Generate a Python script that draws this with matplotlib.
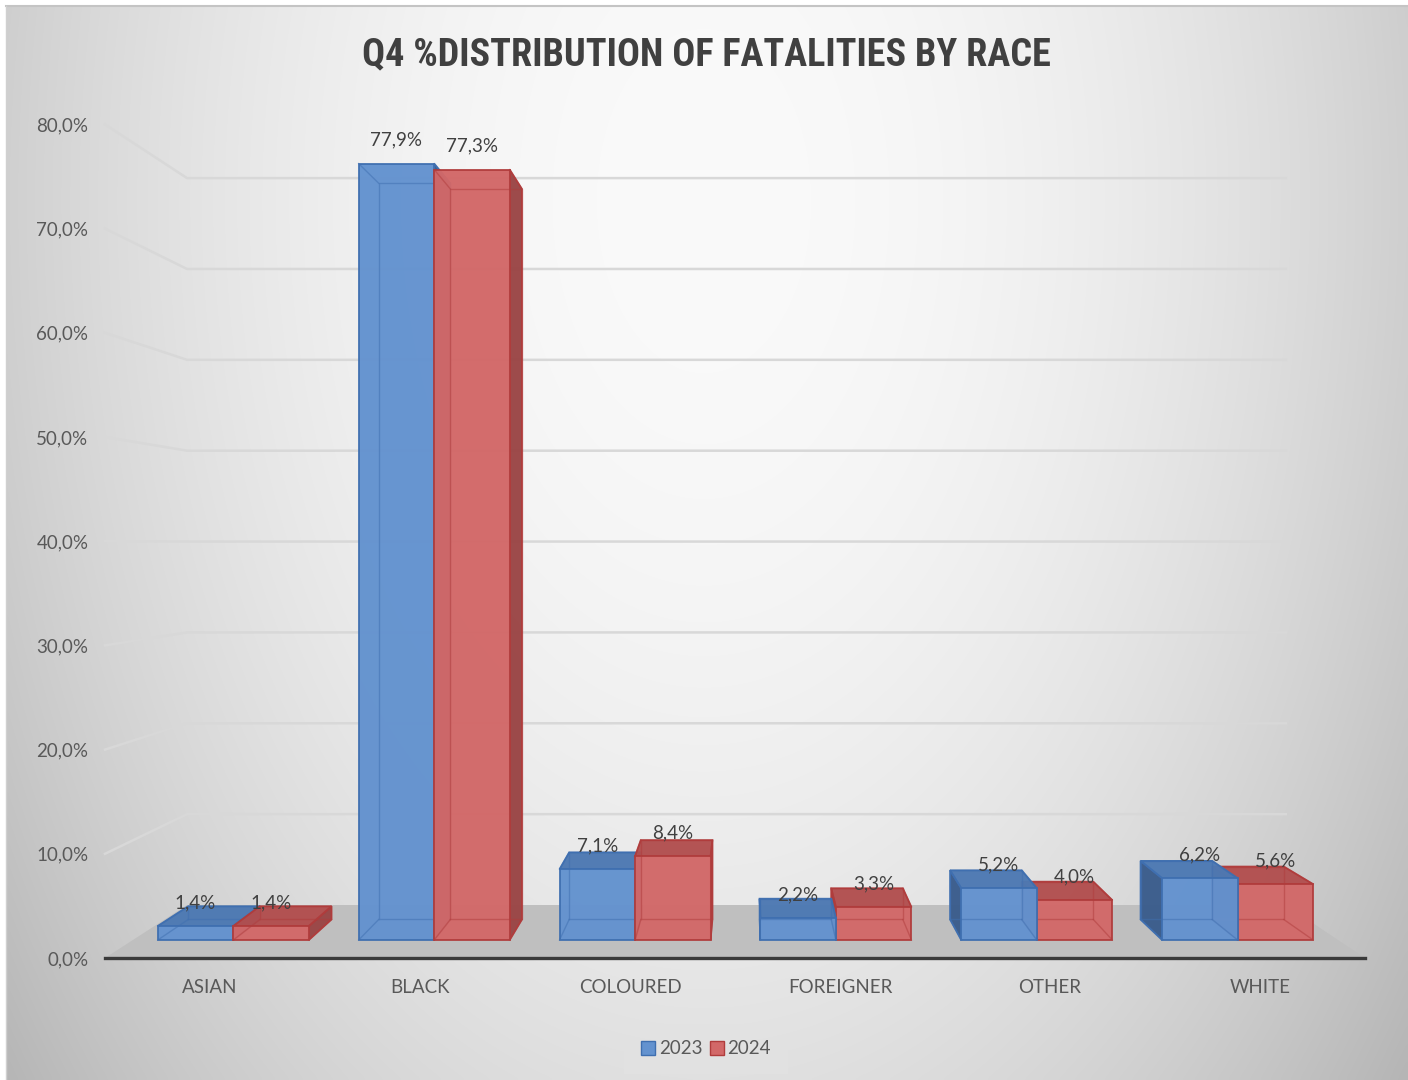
import numpy as np
import matplotlib
matplotlib.use("Agg")
import matplotlib.pyplot as plt
from matplotlib.patches import Polygon, Patch
from matplotlib import font_manager

# ---- data -------------------------------------------------------------
categories = ["ASIAN", "BLACK", "COLOURED", "FOREIGNER", "OTHER", "WHITE"]
series_names = ["2023", "2024"]
values_2023 = [1.4, 77.9, 7.1, 2.2, 5.2, 6.2]
values_2024 = [1.4, 77.3, 8.4, 3.3, 4.0, 5.6]
y_ticks = [0, 10, 20, 30, 40, 50, 60, 70, 80]
title = "Q4 %DISTRIBUTION OF FATALITIES BY RACE"

# ---- fonts ------------------------------------------------------------
installed = {f.name for f in font_manager.fontManager.ttflist}


def pick(*names):
    for n in names:
        if n in installed:
            return n
    return "DejaVu Sans"


body_font = pick("Lato", "Open Sans", "DejaVu Sans")
title_font = pick("Liberation Sans Narrow", "DejaVu Sans Condensed",
                  "Roboto Condensed", "Open Sans", "DejaVu Sans")
plt.rcParams["font.family"] = [body_font, "DejaVu Sans"]

TEXT = "#404040"
TICK = "#595959"

# ---- figure -------------------------------------------------------------
W, H = 1408, 1080
fig = plt.figure(figsize=(W / 100, H / 100), dpi=100)
fig.patch.set_facecolor("white")

# soft grey backdrop, brightest near the top centre
bg = fig.add_axes([0, 0, 1, 1], zorder=-5)
bg.set_xlim(0, W)
bg.set_ylim(H, 0)
bg.axis("off")
gx, gy = np.meshgrid(np.linspace(6, W, 400), np.linspace(6, H, 300))
dx = (gx - 704) / 704
dy = (gy - 200) / 880
shade = (250 - 43 * dx ** 2 - 26 * dy ** 2) / 255
bg.imshow(np.dstack([shade] * 3), extent=(6, W, H, 6), aspect="auto",
          interpolation="bicubic")
bg.plot([6, W], [6, 6], color="#c4c4c4", lw=1.5)
bg.plot([6, 6], [6, H], color="#d0d0d0", lw=1.0)

# main axes = the front plane of the 3-D box
ax = fig.add_axes([105 / W, (H - 958) / H, 1260 / W, 833.6 / H])
n = len(categories)
ax.set_xlim(-0.5, n - 0.5)
ax.set_ylim(0, 80)
ax.patch.set_visible(False)
for s in ("top", "right", "left"):
    ax.spines[s].set_visible(False)
ax.spines["bottom"].set_color("#3a3a3a")
ax.spines["bottom"].set_linewidth(2.4)
ax.spines["bottom"].set_zorder(50)

# perspective: points recede toward a vanishing point
VX, VV = 2.552, 39.73
K_FLOOR = 0.128
K_BAR_FRONT, K_BAR_BACK = 0.0435, 0.093
BAR_W = 0.376


def proj(x, v, k):
    return x + (VX - x) * k, v + (VV - v) * k


# side wall + back wall gridlines
for v in y_ticks[1:]:
    p0 = proj(-0.5, v, 0)
    p1 = proj(-0.5, v, K_FLOOR)
    p2 = proj(n - 0.5, v, K_FLOOR)
    ax.plot([p0[0], p1[0], p2[0]], [p0[1], p1[1], p2[1]], color="#d8d8d8",
            lw=1.8, clip_on=False, zorder=1, solid_joinstyle="round")

# floor
floor = [proj(-0.5, 0, 0), proj(n - 0.5, 0, 0),
         proj(n - 0.5, 0, K_FLOOR), proj(-0.5, 0, K_FLOOR)]
ax.add_patch(Polygon(floor, closed=True, facecolor="#bfbfbf",
                     edgecolor="none", clip_on=False, zorder=2))

palette = {
    "2023": dict(front="#6392cf", top="#4d79b3", side="#3a5c8c",
                 edge="#3f6fb0"),
    "2024": dict(front="#d26868", top="#b24f4f", side="#9a4545",
                 edge="#b03c3c"),
}

bars = []
for i in range(n):
    bars.append((i - BAR_W, i, values_2023[i], "2023"))
    bars.append((i, i + BAR_W, values_2024[i], "2024"))

# paint the bars farthest from the vanishing point first
bars.sort(key=lambda b: -abs((b[0] + b[1]) / 2 - VX))

z = 3.0
for x0, x1, h, name in bars:
    c = palette[name]

    def F(x, v):
        return proj(x, v, K_BAR_FRONT)

    def B(x, v):
        return proj(x, v, K_BAR_BACK)

    faces = []
    if x1 < VX:
        faces.append(([F(x1, 0), B(x1, 0), B(x1, h), F(x1, h)], c["side"]))
    if x0 > VX:
        faces.append(([F(x0, 0), B(x0, 0), B(x0, h), F(x0, h)], c["side"]))
    if h < VV:
        faces.append(([F(x0, h), F(x1, h), B(x1, h), B(x0, h)], c["top"]))
    faces.append(([F(x0, 0), F(x1, 0), F(x1, h), F(x0, h)], c["front"]))
    for pts, col in faces:
        ax.add_patch(Polygon(pts, closed=True, facecolor=col,
                             edgecolor=c["edge"], lw=1.3, alpha=0.97,
                             clip_on=False, zorder=z))
    # edges seen through the translucent faces
    back = [B(x0, 0), B(x1, 0), B(x1, h), B(x0, h), B(x0, 0)]
    ax.plot([p[0] for p in back], [p[1] for p in back], color=c["edge"],
            lw=1.0, alpha=0.5, clip_on=False, zorder=z + 0.5)
    for xx in (x0, x1):
        for vv in (0, h):
            a, b = F(xx, vv), B(xx, vv)
            ax.plot([a[0], b[0]], [a[1], b[1]], color=c["edge"], lw=1.0,
                    alpha=0.5, clip_on=False, zorder=z + 0.5)
    z += 1.0

    # value label centred above the front top edge
    lx, ly = F((x0 + x1) / 2, h)
    ax.annotate(f"{h:.1f}".replace(".", ",") + "%", (lx, ly),
                xytext=(0, 17), textcoords="offset points", ha="center",
                va="center", fontsize=13.5, color=TEXT, zorder=100,
                annotation_clip=False)

# axes labels
ax.set_yticks(y_ticks)
ax.set_yticklabels([f"{v:.1f}".replace(".", ",") + "%" for v in y_ticks])
ax.set_xticks(range(n))
ax.set_xticklabels(categories)
ax.tick_params(axis="y", length=0, pad=12, labelsize=13.5, labelcolor=TICK)
ax.tick_params(axis="x", length=0, pad=15, labelsize=13.5, labelcolor=TICK)

# title
fig.text(706 / W, 1 - 55 / H, title, ha="center", va="center",
         fontsize=27.5, fontweight="bold", color=TEXT,
         family=[title_font, "DejaVu Sans"])

# legend
handles = [Patch(facecolor=palette[s]["front"], edgecolor=palette[s]["edge"],
                 label=s) for s in series_names]
leg = fig.legend(handles=handles, loc="center", ncol=2,
                 bbox_to_anchor=(706 / W, 1 - 1049 / H), frameon=True,
                 fontsize=13.5, handlelength=0.75, handleheight=0.75,
                 handletextpad=0.2, columnspacing=0.4, borderpad=0.9,
                 fancybox=False, labelcolor=TICK)
leg.get_frame().set_facecolor("#e2e2e2")
leg.get_frame().set_edgecolor("none")

fig.savefig("out.png", dpi=100)
